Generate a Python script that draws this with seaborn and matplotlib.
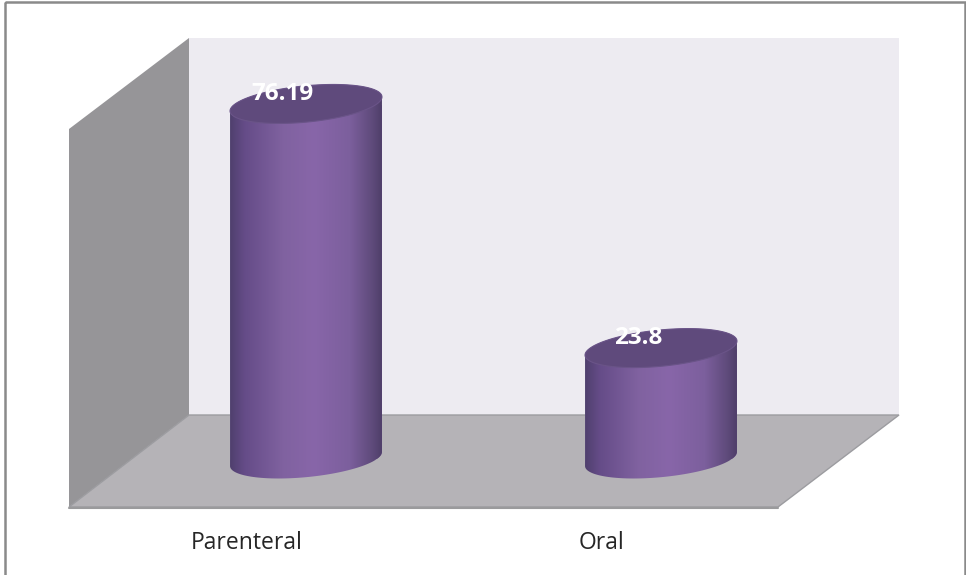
import numpy as np
import pandas as pd
import matplotlib
matplotlib.use("Agg")
import matplotlib.pyplot as plt
import seaborn as sns
from matplotlib.colors import LinearSegmentedColormap
from matplotlib.patches import Polygon, Rectangle
from matplotlib.transforms import Affine2D, IdentityTransform, ScaledTranslation

categories = ["Parenteral", "Oral"]
values = [76.19, 23.8]
value_labels = ["76.19", "23.8"]

W, H = 966, 575
FLOOR_Y = 507.5

sns.set_theme(style="white")
plt.rcParams["font.family"] = ["Open Sans", "DejaVu Sans"]

fig = plt.figure(figsize=(W / 100, H / 100), dpi=100, facecolor="white")
ax = fig.add_axes([0, 1 - FLOOR_Y / H, 1, FLOOR_Y / H])

df = pd.DataFrame({"route": categories, "percent": values})
sns.barplot(data=df, x="route", y="percent", width=0.428, color="#7a5c9c", saturation=1, ax=ax, zorder=3)

# category 0 sits at px 306, category 1 at px 661; value 0 at px 459
px_per_cat = 355
px_per_unit = 4.66
xlim = (-306 / px_per_cat, (W - 306) / px_per_cat)
ylim = (-(FLOOR_Y - 459) / px_per_unit, 459 / px_per_unit)
ax.set_xlim(xlim)
ax.set_ylim(ylim)
ax.set_xlabel("")
ax.set_ylabel("")
ax.set_yticks([])
ax.patch.set_visible(False)
sns.despine(ax=ax, left=True, bottom=True, top=True, right=True)

# pixel coordinates measured from the top-left corner of the image
px = Affine2D().scale(1, -1).translate(0, H)


def box(points, **kw):
    fig.add_artist(Polygon(points, closed=True, transform=px, zorder=-1, **kw))


# chart frame and the 3d room behind the bars
fig.add_artist(Rectangle((5, 1.5), W - 6, H + 5, transform=px, fill=False, edgecolor="#8a8a8a", lw=1.8, zorder=-1))
box([(189, 38), (899, 38), (899, 415), (189, 415)], facecolor="#edebf1", edgecolor="none")
box([(69, 129), (189, 38), (189, 415), (69, 507)], facecolor="#969598", edgecolor="none")
box([(69, 507), (189, 415), (899, 415), (778, 507)], facecolor="#b5b3b7", edgecolor="#9c9ca0", lw=1)
fig.add_artist(plt.Line2D([69, 778], [507.5, 507.5], transform=px, color="#9a9a9c", lw=1.5, zorder=-1))

# tick labels under the floor, shifted left of the bars like the original
ax.tick_params(axis="x", length=0, pad=17, labelsize=16.5, labelcolor="#262626")
shift = ScaledTranslation(-59 / 100, 0, fig.dpi_scale_trans)
for tick in ax.get_xticklabels():
    tick.set_transform(tick.get_transform() + shift)

body_cmap = LinearSegmentedColormap.from_list(
    "cyl", [(0, "#4e3f6c"), (0.1, "#654c88"), (0.35, "#8062a0"), (0.55, "#8866a9"), (0.78, "#7c5f9d"), (0.93, "#5e4a7a"), (1, "#4c3c66")]
)
gradient = np.linspace(0, 1, 256).reshape(1, -1)

half_w, half_h, tilt = 76.3, 18.1, np.radians(5.6)
theta = np.linspace(0, 2 * np.pi, 361)[:-1]
ring_x = half_w * np.cos(theta) * np.cos(tilt) - half_h * np.sin(theta) * np.sin(tilt)
ring_y = -(half_w * np.cos(theta) * np.sin(tilt) + half_h * np.sin(theta) * np.cos(tilt))

for bar, text in zip(ax.patches, value_labels):
    cx, top = ax.transData.transform((bar.get_x() + bar.get_width() / 2, bar.get_height()))
    _, base = ax.transData.transform((0, 0))
    top_y, base_y = H - top, H - base

    # cylinder outline: upper half of the top ellipse, lower half of the bottom one
    right = np.argmax(ring_x)
    left = np.argmin(ring_x)
    upper = np.roll(np.arange(360), -right)[: (left - right) % 360 + 1]
    lower = np.roll(np.arange(360), -left)[: (right - left) % 360 + 1]
    outline = np.vstack([
        np.column_stack([cx + ring_x[upper], top_y + ring_y[upper]]),
        np.column_stack([cx + ring_x[lower], base_y + ring_y[lower]]),
    ])
    clip = Polygon(outline, closed=True, transform=px, facecolor="none", edgecolor="none")
    ax.add_patch(clip)
    bar.set_clip_path(clip)

    img = ax.imshow(gradient, cmap=body_cmap, aspect="auto", zorder=4,
                    extent=(cx - half_w - 1, cx + half_w + 1, H - base_y - 25, H - top_y + 25),
                    transform=IdentityTransform())
    img.set_clip_path(clip)

    ax.add_patch(Polygon(np.column_stack([cx + ring_x, top_y + ring_y]), closed=True, transform=px,
                         facecolor="#5f4a7c", edgecolor="#6a5488", lw=0.8, zorder=5))
    ax.annotate(text, xy=(bar.get_x() + bar.get_width() / 2, bar.get_height()), xytext=(-23, 10),
                textcoords="offset pixels", ha="center", va="center", color="white",
                fontsize=17.5, fontweight="bold", zorder=6)

ax.set_xlim(xlim)
ax.set_ylim(ylim)

fig.savefig("out.png", dpi=100)
